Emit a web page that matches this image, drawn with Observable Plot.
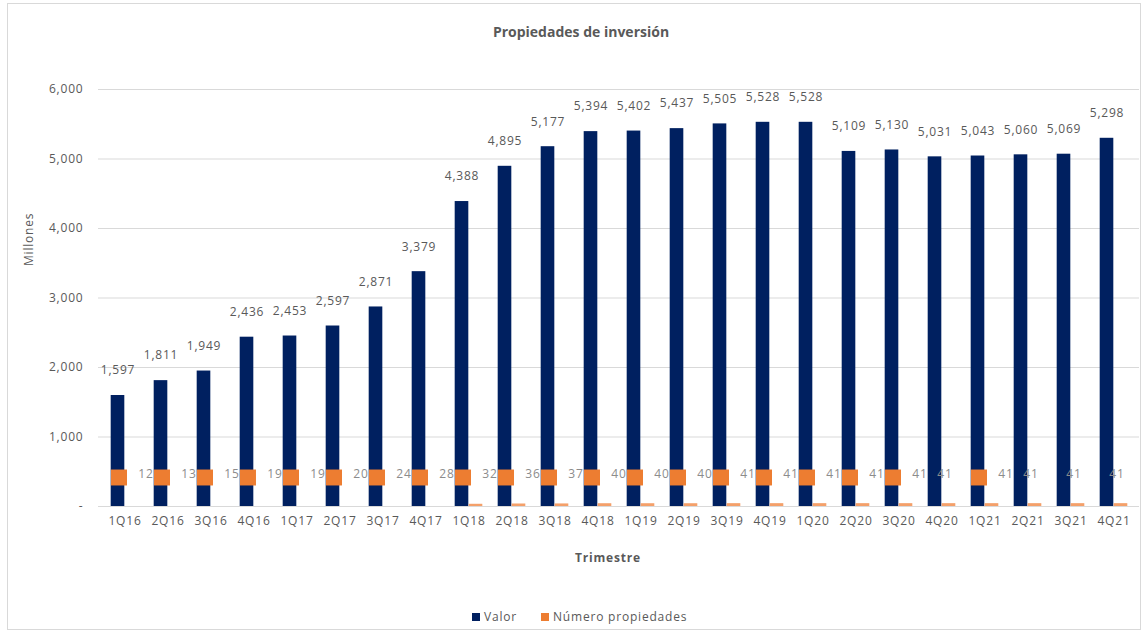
<!DOCTYPE html>
<html>
<head>
<meta charset="utf-8">
<script src="https://cdn.jsdelivr.net/npm/d3@7"></script>
<script src="https://cdn.jsdelivr.net/npm/@observablehq/plot@0.6"></script>
<style>
  html, body { margin: 0; padding: 0; background: #fff; }
  #wrap { position: relative; width: 1146px; height: 635px; overflow: hidden; font-family: "Open Sans", Lato, sans-serif; color: #595959; }
  #frame { position: absolute; left: 7px; top: 3px; width: 1134px; height: 627px; border: 1px solid #d9d9d9; box-sizing: border-box; }
  #title { position: absolute; top: 22px; left: 0; width: 1162px; text-align: center; font-size: 14px; font-weight: bold; color: #595959; }
  #chart { position: absolute; top: 60px; left: 0; }
  #legend { position: absolute; top: 608px; left: 472px; font-size: 12px; letter-spacing: 0.8px; color: #595959; display: flex; align-items: center; }
  .sw { display: inline-block; width: 8px; height: 8px; margin-right: 4px; }
</style>
</head>
<body>
<div id="wrap">
  <div id="frame"></div>
  <div id="title">Propiedades de inversión</div>
  <div id="chart"></div>
  <div id="legend">
    <span class="sw" style="background:#002060"></span><span>Valor</span>
    <span class="sw" style="background:#ed7d31;margin-left:24px"></span><span>Número propiedades</span>
  </div>
</div>
<script>
const quarters = ["1Q16","2Q16","3Q16","4Q16","1Q17","2Q17","3Q17","4Q17","1Q18","2Q18","3Q18","4Q18",
                  "1Q19","2Q19","3Q19","4Q19","1Q20","2Q20","3Q20","4Q20","1Q21","2Q21","3Q21","4Q21"];
const valor = [1597,1811,1949,2436,2453,2597,2871,3379,4388,4895,5177,5394,
               5402,5437,5505,5528,5528,5109,5130,5031,5043,5060,5069,5298];
const numeroPropiedades = [12,13,15,19,19,20,24,28,32,36,37,40,
                           40,40,41,41,41,41,41,41,41,41,41,41];
const yTicks = [0,1000,2000,3000,4000,5000,6000];
// quarters whose data label shows an orange legend key
const conMarcador = ["1Q16","2Q16","3Q16","4Q16","1Q17","2Q17","3Q17","4Q17","1Q18","2Q18","3Q18","4Q18",
                     "1Q19","2Q19","3Q19","4Q19","1Q20","2Q20","3Q20","1Q21"];

const data = quarters.map((q, i) => ({q, valor: valor[i], num: numeroPropiedades[i]}));

const W = 1146, ML = 98, MR = 7;
const step = (W - ML - MR) / quarters.length;
const barW = 14;
const fmt = d3.format(",");
const grey = "#595959";

const chart = Plot.plot({
  width: W,
  height: 510,
  marginTop: 29,
  marginBottom: 64,
  marginLeft: ML,
  marginRight: MR,
  x: {domain: quarters, padding: 0},
  y: {domain: [0, 6000]},
  style: {fontFamily: '"Open Sans", Lato, sans-serif', fontSize: "12px", letterSpacing: "0.8px", color: grey, background: "transparent"},
  marks: [
    Plot.gridY(yTicks, {stroke: "#d9d9d9", strokeOpacity: 1}),
    Plot.axisY(yTicks, {tickSize: 0, tickPadding: 15, label: null, fill: grey,
      tickFormat: d => d === 0 ? "-" : fmt(d)}),
    Plot.axisX({tickSize: 0, tickPadding: 10, label: null, fill: grey}),
    Plot.text(["Trimestre"], {text: d => d, frameAnchor: "bottom", dx: -11, dy: 55, fontWeight: "bold", fill: grey, fontSize: 12}),
    Plot.text(["Millones"], {text: d => d, frameAnchor: "left", rotate: -90, dx: -69, dy: -32, fill: grey, fontSize: 12}),
    Plot.barY(data, {x: "q", y: "valor", fill: "#002060",
      insetLeft: step / 2 - barW, insetRight: step / 2}),
    Plot.barY(data.filter(d => +d.q.slice(2) >= 18), {x: "q", y: "num", fill: "#f4a06a",
      insetLeft: step / 2, insetRight: step / 2 - barW}),
    Plot.text(data, {x: "q", y: "valor", text: d => fmt(d.valor), dx: -7, dy: -25, fill: grey, fontSize: 12}),
    Plot.text(data.filter(d => conMarcador.includes(d.q)), {x: "q", text: "num", frameAnchor: "bottom",
      dx: 21, dy: -29, fill: "#8c8c8c", fontSize: 12}),
    Plot.text(data.filter(d => !conMarcador.includes(d.q)), {x: "q", text: "num", frameAnchor: "bottom",
      dx: 3, dy: -29, fill: "#8c8c8c", fontSize: 12}),
    Plot.dot(data.filter(d => conMarcador.includes(d.q)), {x: "q", frameAnchor: "bottom", dx: -6, dy: -29,
      symbol: "square", r: 9, fill: "#ed7d31", stroke: "none"})
  ]
});
document.getElementById("chart").appendChild(chart);
</script>
</body>
</html>
